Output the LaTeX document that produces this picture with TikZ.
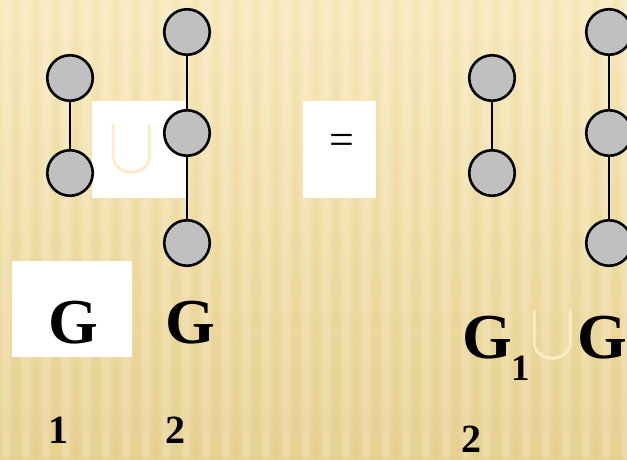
\documentclass[tikz,border=0pt]{standalone}
\usepackage{graphicx}
\usepackage{fontspec}
\setmainfont{Liberation Serif}
\definecolor{bgtop}{HTML}{F9EABD}
\definecolor{bgbot}{HTML}{E8D292}
\definecolor{pale}{HTML}{FCEBC4}
\definecolor{nodegray}{HTML}{C0C0C0}
\newcommand{\bigcupsym}{\scalebox{7.0}[8.1]{$\cup$}}
\tikzset{
  vtx/.style={circle, draw=black, line width=2.6pt, fill=nodegray, minimum size=45.5pt, inner sep=0pt},
  edge/.style={line width=2.6pt, draw=black},
  wbox/.style={fill=white, draw=none, inner sep=0pt},
  bigG/.style={font=\fontsize{64}{64}\selectfont\bfseries, inner sep=0pt, anchor=base},
  idx/.style={font=\fontsize{40}{40}\selectfont\bfseries, inner sep=0pt, anchor=base},
  cupsym/.style={text=pale, inner sep=0pt},
}
\begin{document}
\begin{tikzpicture}[x=1pt,y=-1pt]
\useasboundingbox (0,0) rectangle (627,459);
\shade[top color=bgtop, bottom color=bgbot] (0,0) rectangle (627,459);
\foreach \s in {0,20,...,620}{
  \fill[white, opacity=0.12] (\s+3,0) rectangle (\s+9,459);
  \fill[white, opacity=0.08] (\s+1,0) rectangle (\s+11,459);
  \fill[brown, opacity=0.03] (\s+13,0) rectangle (\s+19,459);
}
% boxes
\node[wbox, minimum width=94pt, minimum height=97pt] (ubox) at (139,149.5) {};
\node[wbox, minimum width=73pt, minimum height=97pt] (ebox) at (339.5,149.5) {};
\node[wbox, minimum width=120pt, minimum height=96pt] (gbox) at (72,309) {};
\node[cupsym] (cup1) at (132,150) {\bigcupsym};
\node[font=\fontsize{44}{44}\selectfont, inner sep=0pt] (eq) at (342,144) {=};
% graphs
\node[vtx] (a1) at (70,78) {};
\node[vtx] (a2) at (70,173) {};
\node[vtx] (b1) at (187,32) {};
\node[vtx] (b2) at (187,133) {};
\node[vtx] (b3) at (187,243) {};
\node[vtx] (c1) at (492,78) {};
\node[vtx] (c2) at (492,173) {};
\node[vtx] (d1) at (609,32) {};
\node[vtx] (d2) at (609,133) {};
\node[vtx] (d3) at (609,243) {};
\draw[edge] (a1) -- (a2);
\draw[edge] (b1) -- (b2);
\draw[edge] (b2) -- (b3);
\draw[edge] (c1) -- (c2);
\draw[edge] (d1) -- (d2);
\draw[edge] (d2) -- (d3);
% labels
\node[bigG] (g1) at (73,343) {G};
\node[bigG] (g2) at (190,343) {G};
\node[idx] (i1) at (58,443) {1};
\node[idx] (i2) at (175,443) {2};
\node[bigG, anchor=base west] (g3) at (462,358) {G};
\node[font=\fontsize{37}{37}\selectfont\bfseries, inner sep=0pt, anchor=base west] (s1) at (511,380) {1};
\node[cupsym] (cup2) at (553,336) {\bigcupsym};
\node[bigG, anchor=base west] (g4) at (577,358) {G};
\node[idx, anchor=base west] (i3) at (461,452) {2};
\end{tikzpicture}
\end{document}
